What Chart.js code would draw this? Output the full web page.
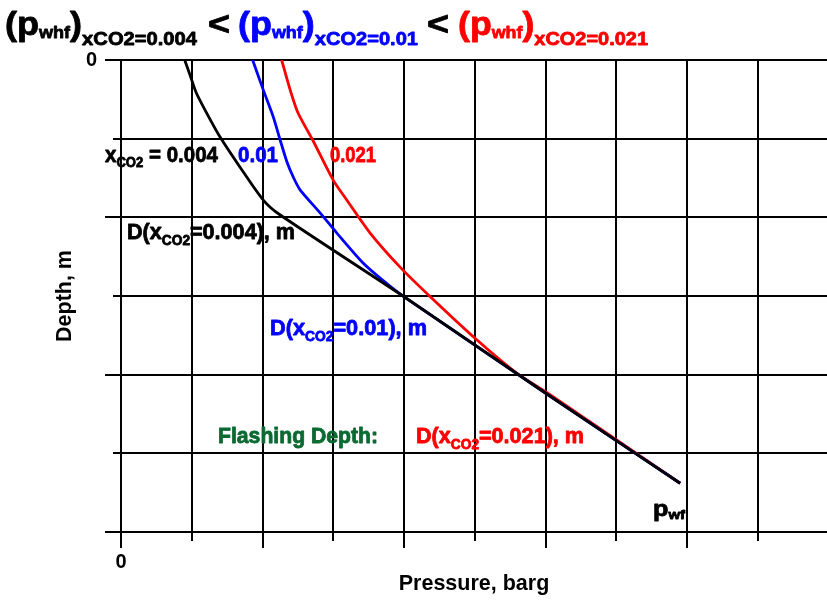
<!DOCTYPE html>
<html>
<head>
<meta charset="utf-8">
<script src="https://cdn.jsdelivr.net/npm/chart.js@4"></script>
<style>
  html, body { margin: 0; padding: 0; background: #fff; }
  canvas { display: block; }
</style>
</head>
<body>
<canvas id="myChart" width="827" height="601"></canvas>
<script>
// Pressure (barg, axis units) and depth (axis units)
const xTicks = [0, 1, 2, 3, 4, 5, 6, 7, 8, 9];
const yTicks = [0, 1, 2, 3, 4, 5, 6];

const pressure004 = [0.90, 0.975, 1.06, 1.19, 1.40, 1.68, 2.01, 2.25, 4.00, 5.99, 7.90];
const depth004    = [0.00, 0.19, 0.41, 0.64, 0.98, 1.36, 1.78, 1.97, 3.01, 4.23, 5.38];

const pressure001 = [1.86, 2.01, 2.15, 2.25, 2.35, 2.44, 2.53, 2.81, 3.05, 3.42, 3.70, 4.00, 5.99, 7.90];
const depth001    = [0.00, 0.38, 0.72, 1.02, 1.31, 1.50, 1.65, 1.94, 2.20, 2.58, 2.80, 3.01, 4.23, 5.38];

const pressure021 = [2.27, 2.39, 2.50, 2.71, 3.00, 3.19, 3.52, 3.94, 4.37, 5.03, 5.59, 6.02, 7.90];
const depth021    = [0.00, 0.38, 0.67, 1.02, 1.53, 1.78, 2.20, 2.63, 3.01, 3.56, 3.98, 4.23, 5.38];

const toPoints = (xs, ys) => xs.map((v, i) => ({ x: v, y: ys[i] }));

const FONT = '"Liberation Sans", Arial, sans-serif';

// Draw a run of text pieces (for subscripts), squeezed to a target width
function drawRich(ctx, x, y, runs, width) {
  let total = 0;
  runs.forEach(r => {
    ctx.font = `bold ${r.size}px ${FONT}`;
    r.w = ctx.measureText(r.t).width;
    total += r.w;
  });
  const sx = width ? width / total : 1;
  ctx.save();
  ctx.translate(x, y);
  ctx.scale(sx, 1);
  ctx.textBaseline = 'alphabetic';
  ctx.textAlign = 'left';
  ctx.lineWidth = 0.8;
  ctx.lineJoin = 'round';
  let cx = 0;
  runs.forEach(r => {
    ctx.font = `bold ${r.size}px ${FONT}`;
    ctx.fillStyle = r.color;
    ctx.strokeStyle = r.color;
    ctx.fillText(r.t, cx, r.dy || 0);
    ctx.strokeText(r.t, cx, r.dy || 0);
    cx += r.w;
  });
  ctx.restore();
}

const BLACK = '#000000', BLUE = '#0000ff', RED = '#ff0000', GREEN = '#0a6a32';

// Labels, title and tick marks
const annotations = {
  id: 'annotations',
  afterDraw(chart) {
    const { ctx, chartArea, scales: { x, y } } = chart;

    // alternating long / short tick marks
    ctx.save();
    ctx.strokeStyle = '#000';
    ctx.lineWidth = 2;
    xTicks.forEach(v => {
      const px = Math.round(x.getPixelForValue(v));
      const len = v % 2 === 0 ? 16 : 9;
      ctx.beginPath();
      ctx.moveTo(px, chartArea.bottom);
      ctx.lineTo(px, chartArea.bottom + len);
      ctx.stroke();
    });
    yTicks.forEach(v => {
      const py = Math.round(y.getPixelForValue(v));
      const len = v % 2 === 0 ? 16 : 8;
      ctx.beginPath();
      ctx.moveTo(chartArea.left, py);
      ctx.lineTo(chartArea.left - len, py);
      ctx.stroke();
    });
    ctx.restore();

    // title
    const big = 34, sub1 = 17, sub2 = 19;
    const group = (c, s) => [
      { t: '(p', size: big, color: c },
      { t: 'whf', size: sub1, dy: 3, color: c },
      { t: ')', size: big, color: c },
      { t: 'xCO2=' + s, size: sub2, dy: 10, color: c }
    ];
    drawRich(ctx, 5, 35, group(BLACK, '0.004'), 192);
    drawRich(ctx, 208, 35, [{ t: '<', size: big, color: BLACK }], 22);
    drawRich(ctx, 238, 35, group(BLUE, '0.01'), 180);
    drawRich(ctx, 427, 35, [{ t: '<', size: big, color: BLACK }], 22);
    drawRich(ctx, 458, 35, group(RED, '0.021'), 190);

    // curve labels
    const M = 22, S = 14;
    drawRich(ctx, 105, 162, [
      { t: 'x', size: M, color: BLACK },
      { t: 'CO2', size: S, dy: 5, color: BLACK },
      { t: ' = 0.004', size: M, color: BLACK }
    ], 113);
    drawRich(ctx, 238, 162, [{ t: '0.01', size: M, color: BLUE }], 40);
    drawRich(ctx, 330, 162, [{ t: '0.021', size: M, color: RED }], 46);

    const dLabel = (c, s) => [
      { t: 'D(x', size: M, color: c },
      { t: 'CO2', size: S, dy: 6, color: c },
      { t: '=' + s + '), m', size: M, color: c }
    ];
    drawRich(ctx, 127, 239, dLabel(BLACK, '0.004'), 168);
    drawRich(ctx, 270, 335, dLabel(BLUE, '0.01'), 157);
    drawRich(ctx, 416, 443, dLabel(RED, '0.021'), 168);
    drawRich(ctx, 218, 443, [{ t: 'Flashing Depth:', size: M, color: GREEN }], 160);
    drawRich(ctx, 653, 516, [
      { t: 'p', size: M, color: BLACK },
      { t: 'wf', size: 13, dy: 3, color: BLACK }
    ], 32);
  }
};

const ctx = document.getElementById('myChart').getContext('2d');

new Chart(ctx, {
  type: 'scatter',
  data: {
    datasets: [
      {
        label: 'xCO2=0.004',
        data: toPoints(pressure004, depth004),
        borderColor: BLACK,
        backgroundColor: BLACK
      },
      {
        label: 'xCO2=0.01',
        data: toPoints(pressure001, depth001),
        borderColor: BLUE,
        backgroundColor: BLUE
      },
      {
        label: 'xCO2=0.021',
        data: toPoints(pressure021, depth021),
        borderColor: RED,
        backgroundColor: RED
      }
    ]
  },
  options: {
    responsive: false,
    animation: false,
    showLine: true,
    layout: { padding: { top: 60, left: 0, right: 0, bottom: 0 } },
    elements: {
      point: { radius: 0, hoverRadius: 0 },
      line: { borderWidth: 2.8, tension: 0.25, fill: false }
    },
    plugins: {
      legend: { display: false },
      tooltip: { enabled: false }
    },
    scales: {
      x: {
        type: 'linear',
        min: 0,
        max: 9.975,
        afterBuildTicks: s => { s.ticks = xTicks.map(v => ({ value: v })); },
        afterFit: s => { s.height = 69; },
        ticks: {
          color: '#000',
          padding: 18,
          font: { family: FONT, size: 20, weight: 'bold' },
          callback: v => (v === 0 ? '0' : '')
        },
        grid: { color: '#000', lineWidth: 2, drawTicks: false },
        border: { display: true, color: '#000', width: 2 },
        title: {
          display: true,
          text: 'Pressure, barg',
          color: '#000',
          font: { family: FONT, size: 21.5, weight: 'bold' },
          padding: { top: 0, bottom: 4 }
        }
      },
      y: {
        type: 'linear',
        reverse: true,
        min: 0,
        max: 6,
        afterBuildTicks: s => { s.ticks = yTicks.map(v => ({ value: v })); },
        afterFit: s => { s.width = 121; },
        ticks: {
          color: '#000',
          padding: 24,
          font: { family: FONT, size: 20, weight: 'bold' },
          callback: v => (v === 0 ? '0' : '')
        },
        grid: { color: '#000', lineWidth: 2, drawTicks: false },
        border: { display: true, color: '#000', width: 2 },
        title: {
          display: true,
          text: 'Depth, m',
          color: '#000',
          font: { family: FONT, size: 21.5, weight: 'bold' },
          padding: { top: 52, bottom: 0 }
        }
      }
    }
  },
  plugins: [annotations]
});
</script>
</body>
</html>
